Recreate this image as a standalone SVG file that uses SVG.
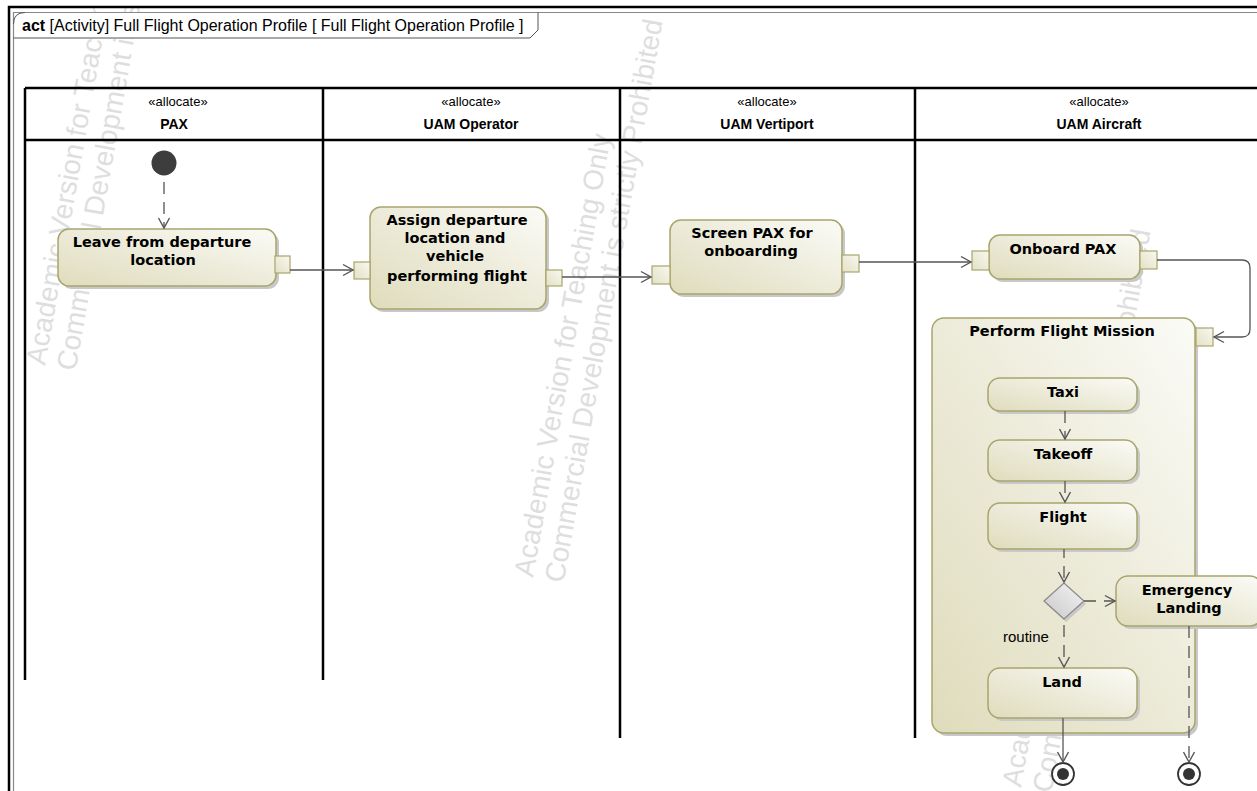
<svg xmlns="http://www.w3.org/2000/svg" width="1257" height="791" viewBox="0 0 1257 791">
<style>
.wm{font-family:"Liberation Sans",Arial,sans-serif;font-size:28px;fill:#dedede}
.act{fill:url(#g);stroke:#a8a56c;stroke-width:1.5}
.sh{fill:#c8c8c8}
.pin{fill:url(#gp);stroke:#a8a56c;stroke-width:1.2}
.lbl{font-family:"DejaVu Sans",Verdana,sans-serif;font-size:14.5px;font-weight:bold;fill:#000;text-anchor:middle}
.ster{font-family:"Liberation Sans",Arial,sans-serif;font-size:13px;fill:#000;text-anchor:middle}
.lname{font-family:"Liberation Sans",Arial,sans-serif;font-size:14px;font-weight:bold;fill:#000;text-anchor:middle}
.lane{stroke:#000;stroke-width:2.5;fill:none}
.flow{stroke:#555;stroke-width:1.3;fill:none;marker-end:url(#arr)}
.cflow{stroke:#555;stroke-width:1.3;fill:none;stroke-dasharray:12 8;marker-end:url(#arr)}
.title{font-family:"Liberation Sans",Arial,sans-serif;font-size:16px;fill:#000}
</style>
<defs>
<linearGradient id="g" x1="0" y1="1" x2="1" y2="0">
<stop offset="0" stop-color="#dfdcbc"/>
<stop offset="0.6" stop-color="#efeedf"/>
<stop offset="1" stop-color="#fbfbf7"/>
</linearGradient>
<linearGradient id="gp" x1="0" y1="1" x2="1" y2="0">
<stop offset="0" stop-color="#e3e1c6"/>
<stop offset="1" stop-color="#f8f8ef"/>
</linearGradient>
<linearGradient id="gd" x1="0" y1="1" x2="1" y2="0">
<stop offset="0" stop-color="#c8c8c8"/>
<stop offset="1" stop-color="#f4f4f4"/>
</linearGradient>
<marker id="arr" markerUnits="userSpaceOnUse" markerWidth="14" markerHeight="14" viewBox="0 0 14 14" refX="12" refY="7" orient="auto">
<path d="M2,1.5 L12,7 L2,12.5" fill="none" stroke="#555" stroke-width="1.4"/>
</marker>
</defs>
<rect x="0" y="0" width="1257" height="791" fill="#fff"/>

<!-- watermark -->
<g id="watermark">
<text class="wm" transform="translate(45,366) rotate(-80)"><tspan x="0" y="0">Academic Version for Teaching Only</tspan><tspan x="0" y="31">Commercial Development is strictly Prohibited</tspan></text>
<text class="wm" transform="translate(533,578) rotate(-80)"><tspan x="0" y="0">Academic Version for Teaching Only</tspan><tspan x="0" y="31">Commercial Development is strictly Prohibited</tspan></text>
<text class="wm" transform="translate(1021,788) rotate(-80)"><tspan x="0" y="0">Academic Version for Teaching Only</tspan><tspan x="0" y="31">Commercial Development is strictly Prohibited</tspan></text>
</g>

<!-- frame -->
<g id="frame">
<rect x="0" y="0" width="1257" height="6" fill="#fff"/>
<rect x="0" y="0" width="8" height="791" fill="#fff"/>
<path d="M13.5,38 L530,38 L538,30 L538,12.5 L25,12.5 Q13.5,12.5 13.5,24 Z" fill="#fff" stroke="none"/>
<path d="M9,791 L9,7 L1257,7" fill="none" stroke="#000" stroke-width="2.5"/>
<path d="M13.5,791 L13.5,12.5 L1257,12.5" fill="none" stroke="#888" stroke-width="1.2"/>
<path d="M13.5,38 L530,38 L538,30 L538,12.5" fill="none" stroke="#555" stroke-width="1"/>
<path d="M13.5,24 Q13.5,12.5 25,12.5" fill="none" stroke="#555" stroke-width="1"/>
<text class="title" x="22" y="31"><tspan font-weight="bold">act</tspan> [Activity] Full Flight Operation Profile [ Full Flight Operation Profile ]</text>
</g>

<!-- swimlanes -->
<g id="lanes">
<path class="lane" d="M25,88 L1257,88 M25,140 L1257,140 M25,88 L25,680 M323,88 L323,680 M620,88 L620,738 M915,88 L915,738"/>
</g>
<g id="lane-pax"><text class="ster" x="178" y="106">«allocate»</text><text class="lname" x="174" y="129">PAX</text></g>
<g id="lane-operator"><text class="ster" x="471" y="106">«allocate»</text><text class="lname" x="471" y="129">UAM Operator</text></g>
<g id="lane-vertiport"><text class="ster" x="767" y="106">«allocate»</text><text class="lname" x="767" y="129">UAM Vertiport</text></g>
<g id="lane-aircraft"><text class="ster" x="1099" y="106">«allocate»</text><text class="lname" x="1099" y="129">UAM Aircraft</text></g>

<!-- nodes -->
<g id="initial"><circle cx="164" cy="163" r="12.5" fill="#3d3d3d"/></g>

<g id="leave">
<rect class="sh" x="61" y="232" width="218" height="57" rx="11"/>
<rect class="act" x="58" y="229" width="218" height="57" rx="11"/>
<text class="lbl" x="162" y="247">Leave from departure</text>
<text class="lbl" x="163" y="265">location</text>
<rect class="pin" x="275" y="256" width="15" height="17"/>
</g>

<g id="assign">
<rect class="sh" x="373" y="210" width="176" height="102" rx="11"/>
<rect class="act" x="370" y="207" width="176" height="102" rx="11"/>
<text class="lbl" x="457" y="225">Assign departure</text>
<text class="lbl" x="455" y="243">location and</text>
<text class="lbl" x="455" y="261">vehicle</text>
<text class="lbl" x="457" y="281">performing flight</text>
<rect class="pin" x="354" y="262" width="16" height="17"/>
<rect class="pin" x="546" y="270" width="16" height="16"/>
</g>

<g id="screen">
<rect class="sh" x="673" y="223" width="172" height="74" rx="11"/>
<rect class="act" x="670" y="220" width="172" height="74" rx="11"/>
<text class="lbl" x="752" y="238">Screen PAX for</text>
<text class="lbl" x="751" y="256">onboarding</text>
<rect class="pin" x="652" y="266" width="18" height="18"/>
<rect class="pin" x="842" y="255" width="17" height="17"/>
</g>

<g id="onboard">
<rect class="sh" x="992" y="238" width="151" height="44" rx="11"/>
<rect class="act" x="989" y="235" width="151" height="44" rx="11"/>
<text class="lbl" x="1063" y="254">Onboard PAX</text>
<rect class="pin" x="972" y="251" width="17" height="19"/>
<rect class="pin" x="1140" y="251" width="17" height="18"/>
</g>

<g id="perform">
<rect class="sh" x="935" y="321" width="263" height="415" rx="12"/>
<rect class="act" x="932" y="318" width="263" height="415" rx="12"/>
<text class="lbl" x="1062" y="336">Perform Flight Mission</text>
<rect class="pin" x="1196" y="328" width="17" height="18"/>
</g>

<g id="taxi">
<rect class="sh" x="991" y="381" width="149" height="33" rx="12"/>
<rect class="act" x="988" y="378" width="149" height="33" rx="12"/>
<text class="lbl" x="1063" y="397">Taxi</text>
</g>
<g id="takeoff">
<rect class="sh" x="991" y="443" width="149" height="41" rx="12"/>
<rect class="act" x="988" y="440" width="149" height="41" rx="12"/>
<text class="lbl" x="1063" y="459">Takeoff</text>
</g>
<g id="flight">
<rect class="sh" x="991" y="506" width="149" height="46" rx="12"/>
<rect class="act" x="988" y="503" width="149" height="46" rx="12"/>
<text class="lbl" x="1063" y="522">Flight</text>
</g>
<g id="decision">
<path d="M1046,604 L1066,586 L1086,604 L1066,622 Z" fill="#c8c8c8"/>
<path d="M1044,601 L1064,583 L1084,601 L1064,619 Z" fill="url(#gd)" stroke="#888" stroke-width="1.2"/>
</g>
<g id="emergency">
<rect class="sh" x="1119" y="579" width="146" height="50" rx="12"/>
<rect class="act" x="1116" y="576" width="146" height="50" rx="12"/>
<text class="lbl" x="1187" y="595">Emergency</text>
<text class="lbl" x="1189" y="613">Landing</text>
</g>
<g id="land">
<rect class="sh" x="991" y="671" width="149" height="50" rx="12"/>
<rect class="act" x="988" y="668" width="149" height="50" rx="12"/>
<text class="lbl" x="1062" y="687">Land</text>
</g>
<g id="final1"><circle cx="1063" cy="774" r="11" fill="#fff" stroke="#333" stroke-width="1.8"/><circle cx="1063" cy="774" r="6" fill="#333"/></g>
<g id="final2"><circle cx="1189" cy="774" r="11" fill="#fff" stroke="#333" stroke-width="1.8"/><circle cx="1189" cy="774" r="6" fill="#333"/></g>

<!-- connectors -->
<g id="connectors">
<path class="cflow" d="M164,182 L164,228"/>
<path class="flow" d="M290,270 L353,270"/>
<path class="flow" d="M562,277 L651,277"/>
<path class="flow" d="M859,262 L971,262"/>
<path class="flow" d="M1157,260 L1242,260 Q1250,260 1250,268 L1250,329 Q1250,337 1242,337 L1214,337"/>
<path class="cflow" d="M1065,411 L1065,439"/>
<path class="cflow" d="M1065,481 L1065,502"/>
<path class="cflow" d="M1064,566 L1064,582" stroke-dasharray="none"/>
<path d="M1064,549 L1064,558" stroke="#555" stroke-width="1.3"/>
<path class="cflow" d="M1084,601 L1115,601" stroke-dasharray="4 16 20"/>
<path class="cflow" d="M1064,625 L1064,667" stroke-dasharray="14 10 30"/>
<path class="flow" d="M1063,718 L1063,762"/>
<path class="cflow" d="M1189,626 L1189,762" stroke-dasharray="26 8 14 8 14 8 14 8"/>
<text x="1003" y="642" font-family="'Liberation Sans',Arial,sans-serif" font-size="15px" fill="#000">routine</text>
</g>
</svg>
